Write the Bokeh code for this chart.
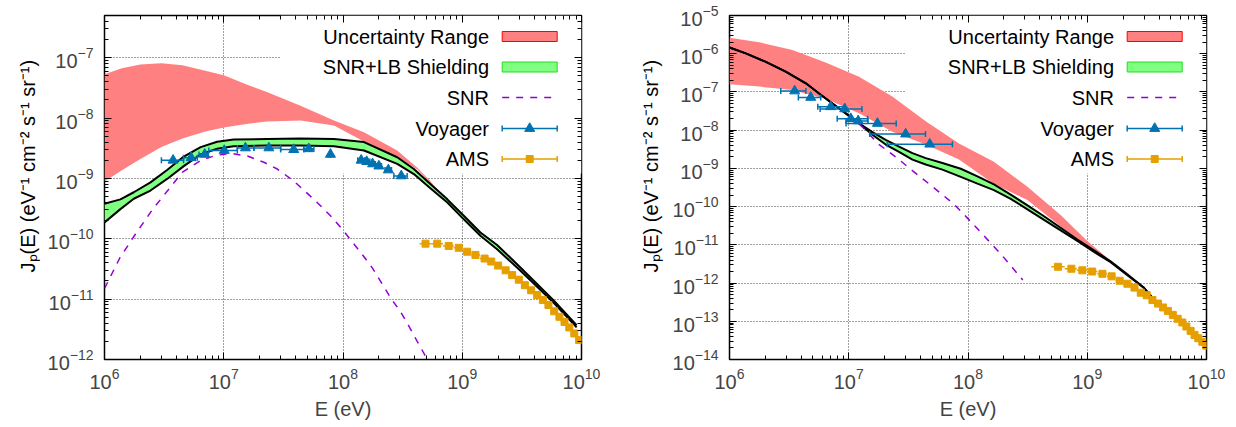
import numpy as np
from bokeh.plotting import figure
from bokeh.layouts import row
from bokeh.models import LogAxis, LogTicker, Range1d, LinearScale, BoxAnnotation, Label, CustomJSTickFormatter
from bokeh.core.properties import value
from bokeh.embed import file_html
from bokeh.resources import INLINE

FONT = "Liberation Sans"
FW, FH = 477, 344
TOTAL_H = 427

# ---------------- left panel data ----------------
L_band_E = [1e6, 1.4e6, 2e6, 3e6, 4.5e6, 7e6, 1e7, 1.5e7, 2.3e7, 4.4e7, 8.4e7, 1.5e8, 2.85e8, 4.2e8, 5.4e8, 6.3e8]
L_band_hi = [5.3e-8, 6.7e-8, 7.7e-8, 8.1e-8, 7.5e-8, 6.1e-8, 5.1e-8, 3.7e-8, 2.7e-8, 1.6e-8, 9.1e-9, 5.8e-9, 2.9e-9, 1.5e-9, 9.1e-10, 6.2e-10]
L_band_lo = [8.9e-10, 1.37e-9, 2.1e-9, 3.3e-9, 4.6e-9, 6.0e-9, 7.0e-9, 7.9e-9, 8.8e-9, 9.1e-9, 7.5e-9, 4.1e-9, 2.25e-9, 1.4e-9, 8.5e-10, 6.2e-10]

L_lb_E = [1e6, 1.36e6, 1.76e6, 2.43e6, 3.35e6, 4.62e6, 6.4e6, 8.8e6, 1.21e7, 2.31e7, 4.4e7, 8.4e7, 1.5e8,
          2.85e8, 3.93e8, 5.4e8, 7.5e8, 1.03e9, 1.42e9, 1.96e9, 3.0e9, 4.0e9, 5.9e9, 9.1e9]
L_lb_hi = [3.8e-10, 4.5e-10, 5.9e-10, 8.6e-10, 1.38e-9, 2.3e-9, 3.3e-9, 4.06e-9, 4.4e-9, 4.5e-9, 4.6e-9, 4.5e-9, 4.0e-9,
           2.24e-9, 1.43e-9, 8.1e-10, 4.5e-10, 2.4e-10, 1.27e-10, 7.9e-11, 3.5e-11, 2.0e-11, 9.3e-12, 3.7e-12]
L_lb_lo = [1.86e-10, 3.1e-10, 4.6e-10, 6.3e-10, 9.8e-10, 1.6e-9, 2.5e-9, 3.1e-9, 3.4e-9, 3.5e-9, 3.5e-9, 3.4e-9, 2.9e-9,
           1.74e-9, 1.18e-9, 6.9e-10, 4.0e-10, 2.1e-10, 1.12e-10, 6.7e-11, 3.1e-11, 1.8e-11, 8.5e-12, 3.4e-12]

L_snr_E = [1e6, 1.35e6, 1.82e6, 2.51e6, 3.39e6, 4.48e6, 6.38e6, 8.5e6, 1.14e7, 1.58e7, 2.17e7, 2.81e7, 3.86e7,
           6.07e7, 7.85e7, 9.84e7, 1.45e8, 1.76e8, 2.55e8, 3.02e8, 3.56e8, 4.19e8, 4.9e8, 6.3e8]
L_snr_J = [1.5e-11, 4.9e-11, 1.2e-10, 3.0e-10, 6.3e-10, 1.26e-9, 1.97e-9, 2.4e-9, 2.6e-9, 2.35e-9, 1.85e-9, 1.43e-9, 9.1e-10,
           4.0e-10, 2.4e-10, 1.44e-10, 5.5e-11, 3.3e-11, 1.0e-11, 6.3e-12, 3.6e-12, 2.0e-12, 1.15e-12, 5e-13]

L_voy_E = [3.76e6, 5.33e6, 6.93e6, 1.01e7, 1.52e7, 2.39e7, 3.86e7, 5.16e7, 7.85e7, 1.42e8, 1.58e8, 1.77e8, 2.0e8, 2.4e8, 3.08e8]
L_voy_J = [2.0e-9, 2.2e-9, 2.5e-9, 2.9e-9, 3.2e-9, 3.2e-9, 3.0e-9, 3.1e-9, 2.5e-9, 2.0e-9, 1.9e-9, 1.74e-9, 1.6e-9, 1.38e-9, 1.1e-9]
L_voy_Elo = [3.0e6, 4.6e6, 6.2e6, 7.5e6, 1.3e7, 1.79e7, 3.0e7, 4.7e7, 7.85e7, 1.33e8, 1.5e8, 1.68e8, 1.9e8, 2.25e8, 2.67e8]
L_voy_Ehi = [4.6e6, 6.0e6, 7.4e6, 1.3e7, 1.79e7, 3.0e7, 4.7e7, 5.7e7, 7.85e7, 1.52e8, 1.68e8, 1.87e8, 2.1e8, 2.55e8, 3.45e8]

L_ams_E = [4.92e8, 6.17e8, 7.7e8, 9.35e8, 1.1e9, 1.29e9, 1.54e9, 1.75e9, 2.0e9, 2.31e9, 2.62e9, 2.98e9, 3.35e9,
           3.78e9, 4.25e9, 4.74e9, 5.28e9, 5.9e9, 6.53e9, 7.2e9, 7.9e9, 8.7e9, 9.55e9]
L_ams_J = [8.3e-11, 8.3e-11, 7.6e-11, 7.1e-11, 6.1e-11, 5.4e-11, 4.7e-11, 4.2e-11, 3.6e-11, 3.0e-11, 2.5e-11, 2.1e-11, 1.7e-11,
           1.4e-11, 1.17e-11, 9.7e-12, 8.0e-12, 6.3e-12, 5.1e-12, 4.2e-12, 3.4e-12, 2.7e-12, 2.1e-12]

# ---------------- right panel data ----------------
R_band_E = [1e6, 1.77e6, 3.37e6, 6.4e6, 1.22e7, 2.32e7, 4.42e7, 8.4e7, 1.65e8, 3.15e8, 5.98e8, 1e9, 1.58e9]
R_band_hi = [2.6e-6, 2.0e-6, 1.25e-6, 5.9e-7, 2.5e-7, 7.6e-8, 1.7e-8, 4.5e-9, 1.5e-9, 3.3e-10, 6.0e-11, 1.26e-11, 3.8e-12]
R_band_lo = [1.58e-7, 1.38e-7, 1.13e-7, 6.6e-8, 2.75e-8, 9.1e-9, 4.2e-9, 1.7e-9, 3.9e-10, 1.5e-10, 3.0e-11, 9e-12, 3.8e-12]

R_lb_E = [1e6, 1.37e6, 2.0e6, 2.96e6, 4.37e6, 5.64e6, 7.3e6, 9.44e6, 1.22e7, 1.58e7, 2.04e7, 2.64e7, 3.42e7, 4.42e7,
          6.1e7, 8.7e7, 1.2e8, 1.65e8, 2.28e8, 3.15e8, 4.34e8, 5.98e8, 8.26e8, 1.14e9, 1.57e9, 2.17e9, 2.99e9, 3.63e9]
R_lb_hi = [1.45e-6, 1.02e-6, 6.2e-7, 3.4e-7, 1.68e-7, 9.1e-8, 5.0e-8, 2.75e-8, 1.5e-8, 8.9e-9, 5.6e-9, 3.7e-9, 2.5e-9, 1.86e-9,
           1.38e-9, 9.8e-10, 6.2e-10, 3.8e-10, 2.06e-10, 1.08e-10, 5.6e-11, 2.8e-11, 1.38e-11, 7.2e-12, 3.7e-12, 1.7e-12, 7.5e-13, 3.7e-13]
R_lb_lo = [1.45e-6, 1.02e-6, 6.2e-7, 3.4e-7, 1.68e-7, 9.1e-8, 5.0e-8, 2.75e-8, 1.5e-8, 7.6e-9, 4.2e-9, 2.7e-9, 1.7e-9, 1.26e-9,
           9.3e-10, 6.0e-10, 4.0e-10, 2.7e-10, 1.6e-10, 8.5e-11, 4.5e-11, 2.4e-11, 1.26e-11, 6.5e-12, 3.5e-12, 1.6e-12, 7.5e-13, 3.7e-13]

R_snr_E = [1.23e7, 1.48e7, 1.8e7, 2.64e7, 3.42e7, 5.19e7, 7.64e7, 9.9e7, 1.25e8, 1.9e8, 2.88e8]
R_snr_J = [1.45e-8, 7.9e-9, 4.2e-9, 1.7e-9, 8.7e-10, 3.1e-10, 1.15e-10, 5e-11, 2.3e-11, 5.6e-12, 1.2e-12]

R_voy_E = [3.52e6, 4.8e6, 7.06e6, 9.25e6, 1.04e7, 1.2e7, 1.74e7, 3.0e7, 4.78e7]
R_voy_J = [1.06e-7, 7.2e-8, 4.1e-8, 3.6e-8, 2.0e-8, 1.75e-8, 1.5e-8, 7.9e-9, 4.3e-9]
R_voy_Elo = [2.69e6, 3.78e6, 5.5e6, 5.75e6, 8.0e6, 9.5e6, 9.5e6, 1.5e7, 2.1e7]
R_voy_Ehi = [4.37e6, 5.82e6, 9.3e6, 1.29e7, 1.44e7, 1.45e7, 2.5e7, 4.4e7, 7.4e7]

R_ams_E = [5.68e8, 7.36e8, 9.1e8, 1.1e9, 1.34e9, 1.6e9, 1.87e9, 2.17e9, 2.49e9, 2.81e9, 3.15e9, 3.52e9, 3.92e9,
           4.32e9, 4.74e9, 5.22e9, 5.73e9, 6.27e9, 6.78e9, 7.36e9, 7.94e9, 8.53e9, 9.23e9, 9.95e9]
R_ams_J = [2.67e-12, 2.37e-12, 2.15e-12, 2.0e-12, 1.75e-12, 1.5e-12, 1.15e-12, 9.6e-13, 7.6e-13, 5.6e-13, 4.8e-13, 3.6e-13,
           2.9e-13, 2.3e-13, 1.87e-13, 1.47e-13, 1.16e-13, 9.3e-14, 7.3e-14, 5.6e-14, 4.4e-14, 3.6e-14, 2.9e-14, 2.3e-14]

LEGEND_LABELS = ["Uncertainty Range", "SNR+LB Shielding", "SNR", "Voyager", "AMS"]
X_LABEL = "E (eV)"
Y_LABEL = "J\u209a(E) (eV\u207b\u00b9 cm\u207b\u00b2 s\u207b\u00b9 sr\u207b\u00b9)"

RED_FILL, RED_LINE = "#ff8080", "#ff0000"
GREEN_FILL, GREEN_LINE = "#80ff80", "#22dd22"
PURPLE = "#9400d3"
BLUE = "#0072b2"
ORANGE = "#e69f00"

TOP, BOTTOM = 15, 68


def bins(E):
    le = np.log10(E)
    mid = (le[1:] + le[:-1]) / 2
    lo = np.concatenate([[le[0] - (mid[0] - le[0])], mid])
    hi = np.concatenate([mid, [le[-1] + (le[-1] - mid[-1])]])
    return 10 ** lo, 10 ** hi


def style_axis(ax):
    ax.major_label_text_font = FONT
    ax.major_label_text_font_size = "20px"
    ax.axis_label_text_font = FONT
    ax.axis_label_text_font_size = "20px"
    ax.axis_label_text_font_style = "normal"
    ax.major_tick_in = 7
    ax.major_tick_out = 0
    ax.minor_tick_in = 4
    ax.minor_tick_out = 0
    ax.major_tick_line_color = "black"
    ax.minor_tick_line_color = "black"
    ax.axis_line_color = None


def ylabel_strip(width, xpos):
    s = figure(width=width, height=TOTAL_H, x_range=Range1d(0, width), y_range=Range1d(0, TOTAL_H),
               min_border=0, output_backend="svg", toolbar_location=None)
    s.axis.visible = False
    s.grid.visible = False
    s.outline_line_color = None
    s.text(x=[xpos], y=[BOTTOM + FH / 2], text=[Y_LABEL], angle=np.pi / 2,
           text_align="center", text_baseline="middle",
           text_font=value(FONT), text_font_size="20px", text_color="black")
    return s


def make_panel(yr, band, lb, snr, voy, ams, bl, br):
    p = figure(x_axis_type="log", y_axis_type="log",
               x_range=Range1d(1e6, 1e10), y_range=Range1d(*yr),
               frame_width=FW, frame_height=FH,
               min_border_left=bl, min_border_right=br, min_border_top=TOP, min_border_bottom=BOTTOM,
               output_backend="svg", toolbar_location=None,
               background_fill_color="white", border_fill_color="white")
    p.outline_line_color = "black"
    p.outline_line_width = 1.5
    p.xaxis.ticker = LogTicker(num_minor_ticks=10)
    p.yaxis.ticker = LogTicker(num_minor_ticks=10)
    for ax in p.xaxis:
        style_axis(ax)
        ax.axis_label = X_LABEL
        ax.major_label_standoff = 8
        ax.axis_label_standoff = 6
    for ax in p.yaxis:
        style_axis(ax)
        ax.major_label_standoff = 11
    for loc in ("above", "right"):
        ax = LogAxis(ticker=LogTicker(num_minor_ticks=10), major_label_standoff=0,
                     formatter=CustomJSTickFormatter(code="return ''"))
        style_axis(ax)
        ax.major_label_text_font_size = "1px"
        p.add_layout(ax, loc)

    p.grid.grid_line_color = "#404040"
    p.grid.grid_line_dash = "1 2"
    p.grid.grid_line_width = 1

    # pixel-space ranges for the key
    p.extra_x_ranges = {"px": Range1d(0, FW)}
    p.extra_y_ranges = {"py": Range1d(0, FH)}
    p.extra_x_scales = {"px": LinearScale()}
    p.extra_y_scales = {"py": LinearScale()}

    mask = BoxAnnotation(left=176, right=FW, bottom=FH - 158, top=FH,
                         fill_color="white", fill_alpha=1, line_alpha=0, level="underlay",
                         x_range_name="px", y_range_name="py")
    p.add_layout(mask)

    bE, blo, bhi = band
    p.varea(x=bE, y1=blo, y2=bhi, fill_color=RED_FILL, fill_alpha=1)

    lE, llo, lhi = lb
    p.varea(x=lE, y1=llo, y2=lhi, fill_color=GREEN_FILL, fill_alpha=1)
    p.line(lE, lhi, line_color="black", line_width=2)
    p.line(lE, llo, line_color="black", line_width=2)

    sE, sJ = snr
    p.line(sE, sJ, line_color=PURPLE, line_width=1.5, line_dash="7 7")

    vE, vJ, vlo, vhi = voy
    p.segment(x0=vlo, y0=vJ, x1=vhi, y1=vJ, line_color=BLUE, line_width=1.5)
    p.scatter(vlo, vJ, marker="dash", angle=np.pi / 2, size=6, line_color=BLUE, line_width=1.5)
    p.scatter(vhi, vJ, marker="dash", angle=np.pi / 2, size=6, line_color=BLUE, line_width=1.5)
    p.scatter(vE, vJ, marker="triangle", size=10, fill_color=BLUE, line_color=BLUE)

    aE, aJ = ams
    alo, ahi = bins(aE)
    p.segment(x0=alo, y0=aJ, x1=ahi, y1=aJ, line_color=ORANGE, line_width=1.5)
    p.scatter(aE, aJ, marker="square", size=7, fill_color=ORANGE, line_color=ORANGE)

    # key
    rows_y = [FH - 21, FH - 51.5, FH - 82, FH - 113, FH - 143.5]
    tx, x0, x1 = 384.5, 397.7, 452.7
    cx = (x0 + x1) / 2
    for lab, yy in zip(LEGEND_LABELS, rows_y):
        p.add_layout(Label(x=tx, y=yy, x_range_name="px", y_range_name="py", text=lab,
                           text_align="right", text_baseline="middle",
                           text_font=FONT, text_font_size="20px", text_color="black"))
    p.rect(x=[cx], y=[rows_y[0]], width=55, height=10, fill_color=RED_FILL, line_color=RED_LINE,
           x_range_name="px", y_range_name="py")
    p.rect(x=[cx], y=[rows_y[1]], width=55, height=10, fill_color=GREEN_FILL, line_color=GREEN_LINE,
           x_range_name="px", y_range_name="py")
    p.line([x0, x1], [rows_y[2], rows_y[2]], line_color=PURPLE, line_width=1.5, line_dash="7 7",
           x_range_name="px", y_range_name="py")
    for yy, col, mk, sz in [(rows_y[3], BLUE, "triangle", 10), (rows_y[4], ORANGE, "square", 7)]:
        p.line([x0, x1], [yy, yy], line_color=col, line_width=1.5, x_range_name="px", y_range_name="py")
        p.scatter([x0, x1], [yy, yy], marker="dash", angle=np.pi / 2, size=6, line_color=col,
                  line_width=1.5, x_range_name="px", y_range_name="py")
        p.scatter([cx], [yy], marker=mk, size=sz, fill_color=col, line_color=col,
                  x_range_name="px", y_range_name="py")
    return p


left_lab = ylabel_strip(44, 27)
left = make_panel((1e-12, 5e-7),
                  (L_band_E, L_band_lo, L_band_hi),
                  (L_lb_E, L_lb_lo, L_lb_hi),
                  (L_snr_E, L_snr_J),
                  (L_voy_E, L_voy_J, L_voy_Elo, L_voy_Ehi),
                  (L_ams_E, L_ams_J), 60, 39)
right_lab = ylabel_strip(44, 30)
right = make_panel((1e-14, 1e-5),
                   (R_band_E, R_band_lo, R_band_hi),
                   (R_lb_E, R_lb_lo, R_lb_hi),
                   (R_snr_E, R_snr_J),
                   (R_voy_E, R_voy_J, R_voy_Elo, R_voy_Ehi),
                   (R_ams_E, R_ams_J), 65, 30)

layout = row(left_lab, left, right_lab, right)
open("out.html", "w").write(file_html(layout, INLINE))
